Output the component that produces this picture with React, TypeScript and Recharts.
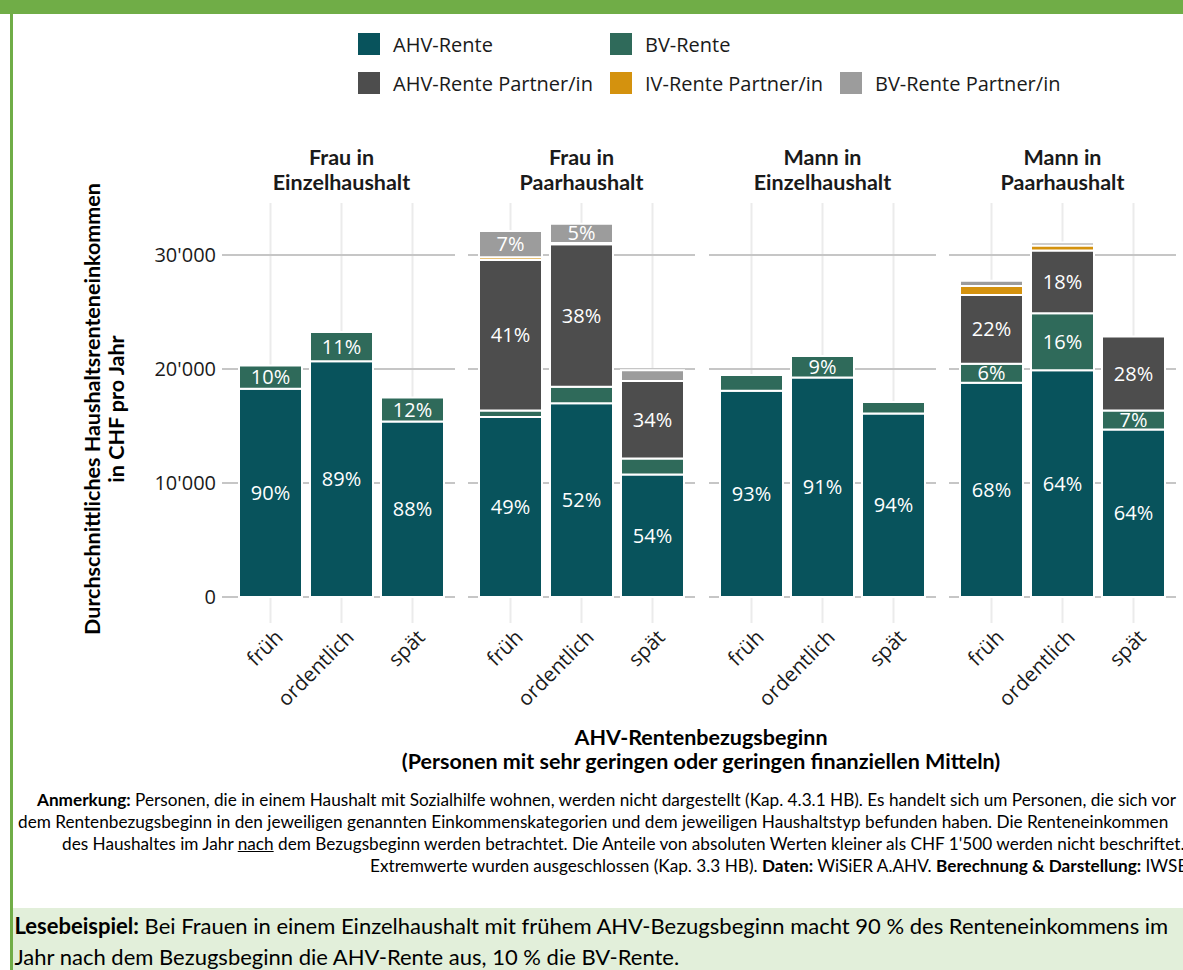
import React from 'react';
import { BarChart, Bar, XAxis, YAxis, CartesianGrid, LabelList } from 'recharts';

// ---------- data ----------
const facetLine1 = ['Frau in', 'Frau in', 'Mann in', 'Mann in'];
const facetLine2 = ['Einzelhaushalt', 'Paarhaushalt', 'Einzelhaushalt', 'Paarhaushalt'];
const timings = ['früh', 'ordentlich', 'spät'];
const seriesNames = ['AHV-Rente', 'BV-Rente', 'AHV-Rente Partner/in', 'IV-Rente Partner/in', 'BV-Rente Partner/in'];
const seriesColors = ['#08535c', '#2f6a5a', '#4d4d4d', '#d4920e', '#9c9c9c'];
const legendRows = [[0, 1], [2, 3, 4]];

// CHF per year, per facet: [früh, ordentlich, spät]
const ahvRente = [[18270, 20690, 15400], [15800, 17000, 10750], [18100, 19250, 16100], [18800, 19900, 14700]];
const bvRente = [[2030, 2560, 2100], [550, 1450, 1400], [1370, 1900, 1000], [1650, 5000, 1650]];
const ahvPartner = [[0, 0, 0], [13200, 12500, 6800], [0, 0, 0], [6050, 5500, 6500]];
const ivPartner = [[0, 0, 0], [260, 100, 0], [0, 0, 0], [790, 440, 0]];
const bvPartner = [[0, 0, 0], [2300, 1700, 950], [0, 0, 0], [440, 260, 0]];
const yTicks = [0, 10000, 20000, 30000];
const yDomain = [-2280, 34560];
const labelThreshold = 1500;

const series = [ahvRente, bvRente, ahvPartner, ivPartner, bvPartner];

const facetData = facetLine1.map((_, f) =>
  timings.map((t, k) => {
    const vals = series.map((s) => s[f][k]);
    const total = vals.reduce((a, b) => a + b, 0);
    const row: any = { timing: t };
    vals.forEach((v, i) => {
      row['s' + i] = v;
      row['l' + i] = v >= labelThreshold ? Math.round((v / total) * 100) + '%' : '';
    });
    return row;
  })
);

// ---------- layout ----------
const SANS = "'Open Sans', sans-serif";
const TITLE = "Lato, 'Open Sans', sans-serif";
const panelLefts = [228, 468, 709, 949];
const panelW = 227;
const panelTop = 203;
const panelH = 420;
const xAxisH = 110;

const fmt = (v: number) => String(v).replace(/\B(?=(\d{3})+(?!\d))/g, "'");

const XTick = (props: any) => {
  const { x, y, payload } = props;
  return (
    <text
      x={0}
      y={0}
      transform={`translate(${x + 2},${y}) rotate(-45)`}
      textAnchor="end"
      dy="0.8em"
      fontSize={20.5}
      fontFamily={SANS}
      fill="#1a1a1a"
    >
      {payload.value}
    </text>
  );
};

function Panel({ f }: { f: number }) {
  const first = f === 0;
  const yW = first ? panelLefts[0] : 0;
  const width = panelW + yW;
  const left = first ? 0 : panelLefts[f];
  return (
    <div style={{ position: 'absolute', left, top: panelTop }}>
      <BarChart
        width={width}
        height={panelH + xAxisH}
        data={facetData[f]}
        margin={{ top: 0, right: 0, bottom: 0, left: 0 }}
      >
        <CartesianGrid horizontal={false} stroke="#ebebeb" strokeWidth={2} syncWithTicks />
        <CartesianGrid vertical={false} stroke="#c6c6c6" strokeWidth={2} syncWithTicks />
        <XAxis
          dataKey="timing"
          type="category"
          height={xAxisH}
          padding={{ left: 7, right: 7 }}
          axisLine={false}
          tickLine={false}
          tickSize={0}
          tickMargin={4}
          interval={0}
          tick={<XTick />}
        />
        <YAxis
          hide={!first}
          width={yW || 0}
          type="number"
          domain={yDomain}
          ticks={yTicks}
          allowDataOverflow
          axisLine={false}
          tickLine={{ stroke: '#c6c6c6', strokeWidth: 2 }}
          tickSize={6}
          tickMargin={6}
          tickFormatter={fmt}
          tick={{ fontSize: 20, fontFamily: SANS, fill: '#1a1a1a' }}
        />
        {seriesNames.map((name, i) => (
          <Bar
            key={name}
            name={name}
            dataKey={'s' + i}
            stackId="a"
            fill={seriesColors[i]}
            stroke="#ffffff"
            strokeWidth={2}
            barSize={63}
            isAnimationActive={false}
          >
            <LabelList
              dataKey={'l' + i}
              position="center"
              fill="#ffffff"
              stroke="none"
              fontSize={20}
              fontFamily={SANS}
            />
          </Bar>
        ))}
      </BarChart>
    </div>
  );
}

export default function App() {
  return (
    <div
      style={{
        position: 'absolute',
        left: 0,
        top: 0,
        width: 1183,
        height: 970,
        overflow: 'hidden',
        background: '#ffffff',
        fontFamily: SANS,
        color: '#000',
      }}
    >
      {/* header bar and border */}
      <div style={{ position: 'absolute', left: 0, top: 0, width: 1183, height: 14, background: '#70ad47' }} />
      <div style={{ position: 'absolute', left: 10, top: 0, width: 2.5, height: 970, background: '#70ad47' }} />

      {/* legend */}
      <div style={{ position: 'absolute', left: 358, top: 33 }}>
        {legendRows.map((row, r) => (
          <div key={r} style={{ display: 'flex', height: 22, marginBottom: 17 }}>
            {row.map((i, c) => (
              <div
                key={i}
                style={{
                  display: 'flex',
                  alignItems: 'center',
                  width: c === 0 ? 252 : c === 1 ? 230 : 260,
                }}
              >
                <div style={{ width: 22, height: 22, background: seriesColors[i], marginRight: 13 }} />
                <span style={{ fontSize: 20, fontFamily: SANS, color: '#1a1a1a', whiteSpace: 'nowrap' }}>
                  {seriesNames[i]}
                </span>
              </div>
            ))}
          </div>
        ))}
      </div>

      {/* facet strip titles */}
      {panelLefts.map((l, f) => (
        <div
          key={f}
          style={{
            position: 'absolute',
            left: l - 30,
            width: panelW + 60,
            top: 145,
            textAlign: 'center',
            fontFamily: TITLE,
            fontWeight: 700,
            fontSize: 21.5,
            lineHeight: '25px',
            color: '#1a1a1a',
          }}
        >
          <div>{facetLine1[f]}</div>
          <div>{facetLine2[f]}</div>
        </div>
      ))}

      {/* panels */}
      {panelLefts.map((_, f) => (
        <Panel key={f} f={f} />
      ))}

      {/* axis titles */}
      <svg width={1183} height={970} style={{ position: 'absolute', left: 0, top: 0, pointerEvents: 'none' }}>
        <g fontFamily={TITLE} fontWeight={700} fontSize={21.5} fill="#000">
          <text transform="translate(92,409) rotate(-90)" textAnchor="middle" dominantBaseline="central">
            Durchschnittliches Haushaltsrenteneinkommen
          </text>
          <text transform="translate(116,409) rotate(-90)" textAnchor="middle" dominantBaseline="central">
            in CHF pro Jahr
          </text>
          <text x={701} y={737} textAnchor="middle" dominantBaseline="central">
            AHV-Rentenbezugsbeginn
          </text>
          <text x={701} y={761} textAnchor="middle" dominantBaseline="central">
            (Personen mit sehr geringen oder geringen finanziellen Mitteln)
          </text>
        </g>
      </svg>

      {/* note */}
      <div style={{ position: 'absolute', left: 0, top: 789, width: 1183, overflow: 'hidden', fontFamily: TITLE, fontSize: 17.2, lineHeight: '22px', whiteSpace: 'nowrap' }}>
        <div style={{ marginLeft: 37 }}>
          <b>Anmerkung:</b> Personen, die in einem Haushalt mit Sozialhilfe wohnen, werden nicht dargestellt (Kap. 4.3.1 HB). Es handelt sich um Personen, die sich vor
        </div>
        <div style={{ marginLeft: 18 }}>
          dem Rentenbezugsbeginn in den jeweiligen genannten Einkommenskategorien und dem jeweiligen Haushaltstyp befunden haben. Die Renteneinkommen
        </div>
        <div style={{ marginLeft: 62 }}>
          des Haushaltes im Jahr <u>nach</u> dem Bezugsbeginn werden betrachtet. Die Anteile von absoluten Werten kleiner als CHF 1'500 werden nicht beschriftet.
        </div>
        <div style={{ marginLeft: 370 }}>
          Extremwerte wurden ausgeschlossen (Kap. 3.3 HB). <b>Daten:</b> WiSiER A.AHV. <b>Berechnung &amp; Darstellung:</b> IWSB
        </div>
      </div>

      {/* Lesebeispiel */}
      <div
        style={{
          position: 'absolute',
          left: 12.5,
          top: 908,
          width: 1171,
          height: 62,
          background: '#e2efda',
          fontFamily: TITLE,
          fontSize: 22,
          lineHeight: '31px',
          whiteSpace: 'nowrap',
          paddingLeft: 2,
          paddingTop: 2,
          boxSizing: 'border-box',
        }}
      >
        <div>
          <b>Lesebeispiel:</b> Bei Frauen in einem Einzelhaushalt mit frühem AHV-Bezugsbeginn macht 90 % des Renteneinkommens im
        </div>
        <div>Jahr nach dem Bezugsbeginn die AHV-Rente aus, 10 % die BV-Rente.</div>
      </div>
    </div>
  );
}
